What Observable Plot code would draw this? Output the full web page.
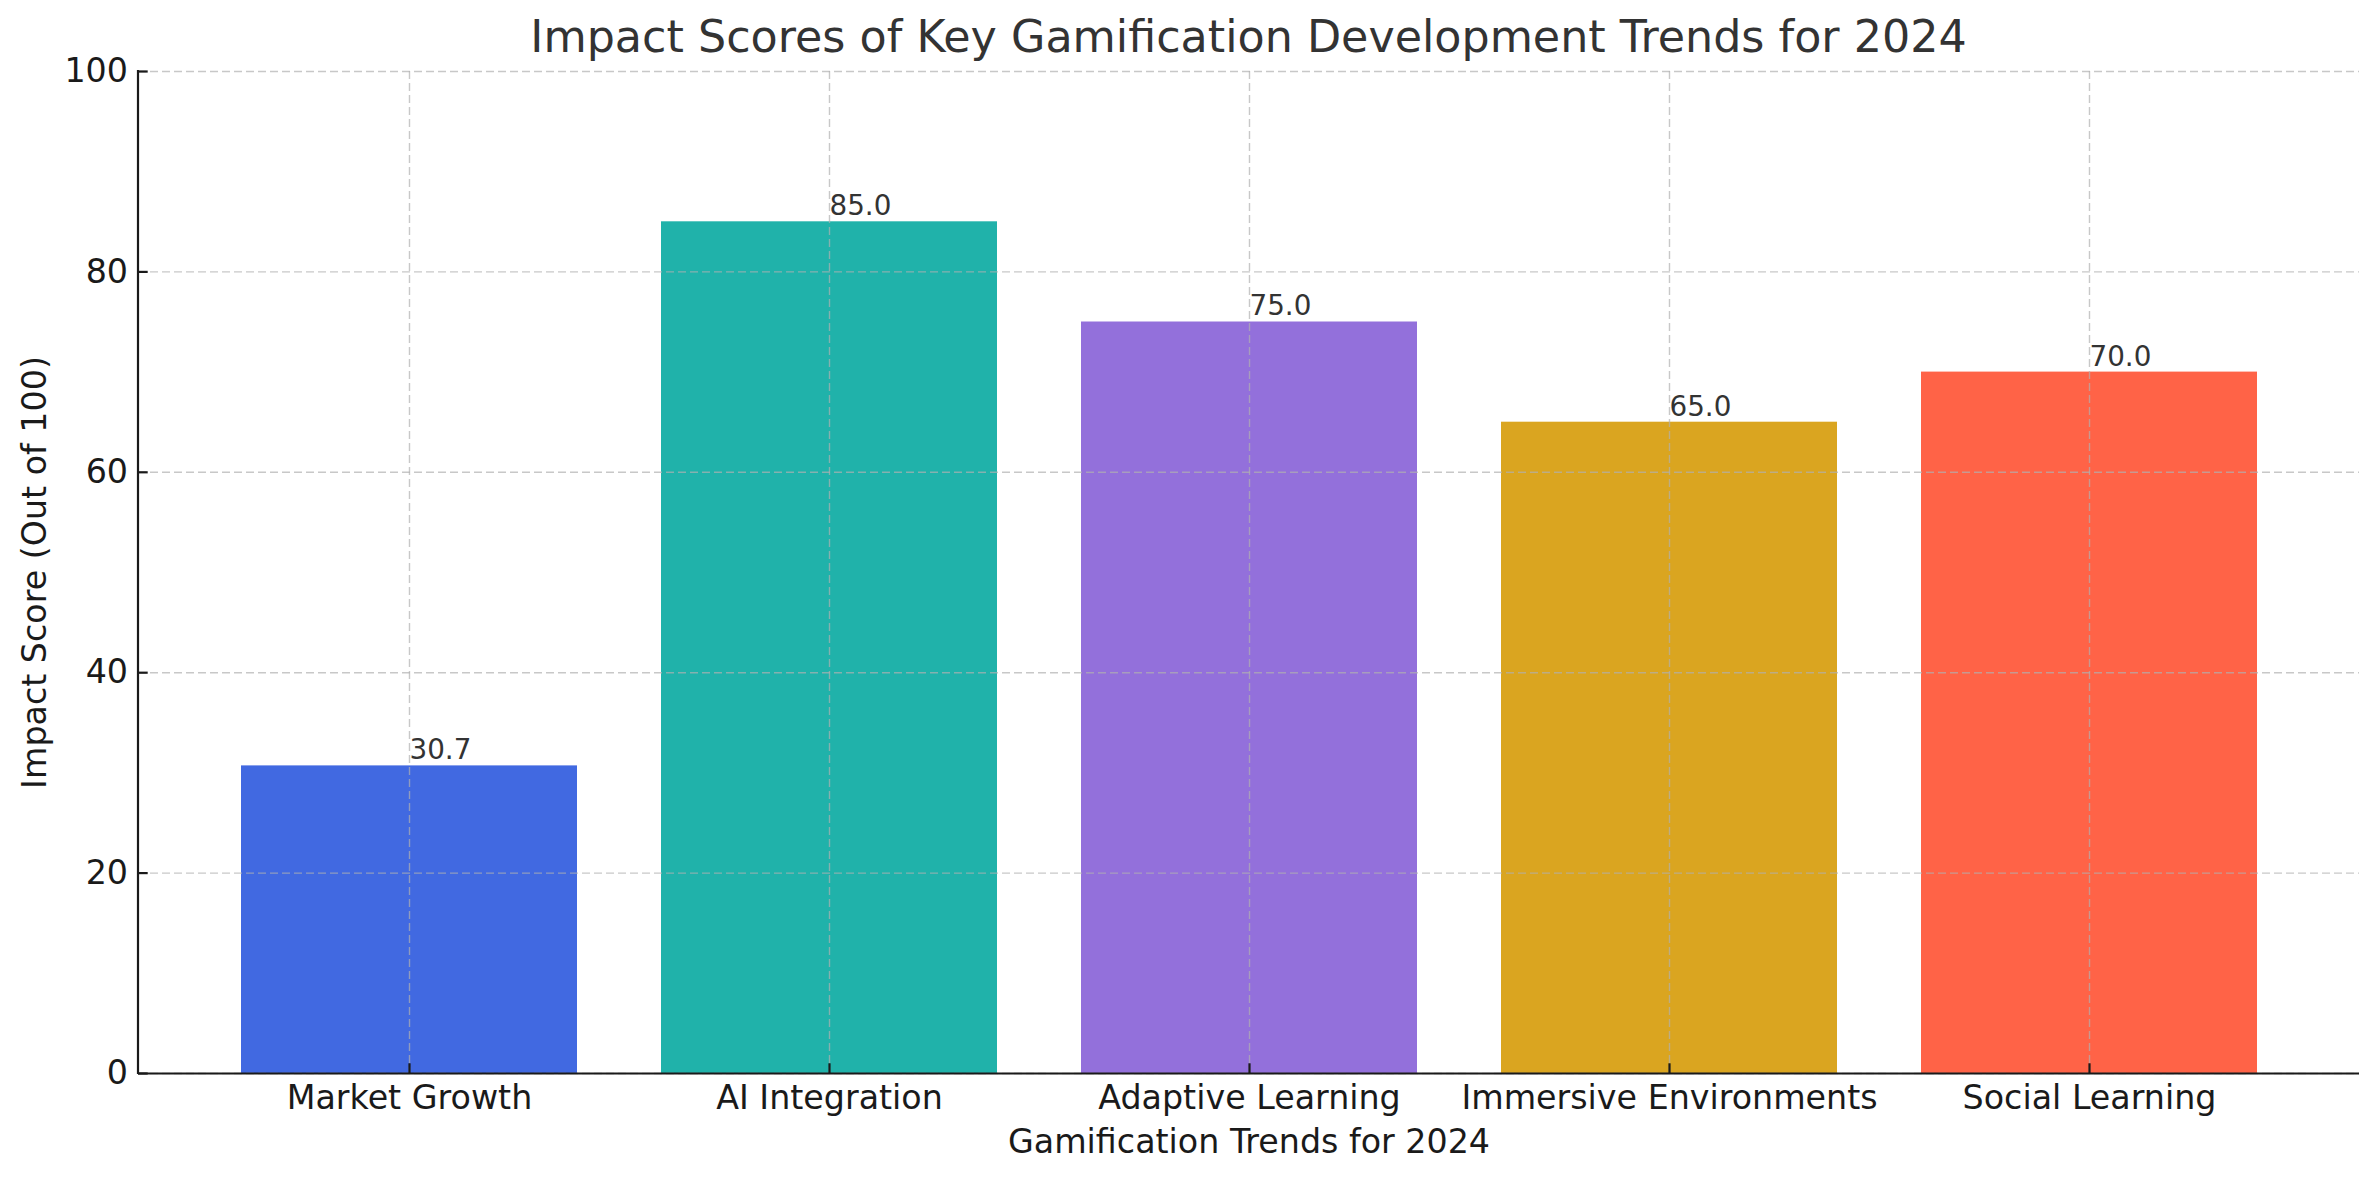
<!DOCTYPE html>
<html>
<head>
<meta charset="utf-8">
<script src="https://cdn.jsdelivr.net/npm/d3@7"></script>
<script src="https://cdn.jsdelivr.net/npm/@observablehq/plot@0.6"></script>
<style>
  html, body { margin: 0; padding: 0; background: #ffffff; }
  #wrap { width: 2379px; height: 1180px; position: relative; font-family: "DejaVu Sans", sans-serif; }
  #title { position: relative; width: 2379px; height: 58px; }
  #title span { position: absolute; left: 1248.5px; top: 15px; transform: translateX(-50%);
    font-size: 44.4px; line-height: 1; color: #333333; white-space: nowrap; }
  svg { display: block; }
</style>
</head>
<body>
<div id="wrap">
  <div id="title"><span>Impact Scores of Key Gamification Development Trends for 2024</span></div>
  <div id="chart"></div>
</div>
<script>
const categories = ["Market Growth", "AI Integration", "Adaptive Learning", "Immersive Environments", "Social Learning"];
const scores = [30.7, 85.0, 75.0, 65.0, 70.0];
const barColors = ["#4169E1", "#20B2AA", "#9370DB", "#DAA520", "#FF6347"];
const yTicks = [0, 20, 40, 60, 80, 100];
const xLabel = "Gamification Trends for 2024";
const yLabel = "Impact Score (Out of 100)";

const data = categories.map((c, i) => ({category: c, score: scores[i]}));

const W = 2379, H = 1122;
const mL = 138, mR = 20, mT = 13, mB = 107;
const font = "DejaVu Sans";
const ink = "#1a1a1a";
const gridStyle = {stroke: "#b0b0b0", strokeOpacity: 0.7, strokeWidth: 1.4, strokeDasharray: "8,4"};

function spineLeft(index, scales, values, dim) {
  const g = d3.create("svg:g");
  g.append("line")
    .attr("x1", dim.marginLeft).attr("x2", dim.marginLeft)
    .attr("y1", dim.marginTop - 1).attr("y2", dim.height - dim.marginBottom + 1)
    .attr("stroke", ink).attr("stroke-width", 2.2);
  return g.node();
}

const chart = Plot.plot({
  width: W,
  height: H,
  marginLeft: mL,
  marginRight: mR,
  marginTop: mT,
  marginBottom: mB,
  style: {fontFamily: font, background: "#ffffff", color: ink, overflow: "visible"},
  x: {type: "band", domain: categories, paddingInner: 0.2, paddingOuter: 0.24, align: 0.5, label: null},
  y: {domain: [0, 100], label: null},
  color: {domain: categories, range: barColors},
  marks: [
    Plot.barY(data, {x: "category", y: "score", fill: "category"}),
    Plot.ruleY(yTicks, {y: d => d, ...gridStyle}),
    Plot.ruleX(categories, {x: d => d, ...gridStyle}),
    Plot.text(data, {
      x: "category", y: "score", text: d => d.score.toFixed(1),
      textAnchor: "start", lineAnchor: "bottom", dy: -6.6,
      fontSize: 27.8, fill: "#333333"
    }),
    Plot.axisY({ticks: yTicks, tickSize: 0, tickPadding: 10.5, fontSize: 33.3, fill: ink, label: null}),
    Plot.axisY({ticks: yTicks, tickSize: 9.7, dx: 9.7, tickFormat: () => "", stroke: ink, strokeWidth: 2.2, label: null}),
    Plot.axisX({tickSize: 0, tickPadding: 11.4, fontSize: 33.3, fill: ink, label: null}),
    Plot.axisX({tickSize: 9.7, dy: -9.7, tickFormat: () => "", stroke: ink, strokeWidth: 2.2, label: null}),
    Plot.ruleY([0], {stroke: ink, strokeWidth: 2.2}),
    spineLeft,
    Plot.text([xLabel], {text: d => d, frameAnchor: "bottom", dy: 79, lineAnchor: "bottom", fontSize: 33.3, fill: ink}),
    Plot.text([yLabel], {text: d => d, frameAnchor: "left", rotate: -90, dx: -93, textAnchor: "middle", lineAnchor: "bottom", fontSize: 33.3, fill: ink})
  ]
});
document.getElementById("chart").appendChild(chart);
</script>
</body>
</html>
